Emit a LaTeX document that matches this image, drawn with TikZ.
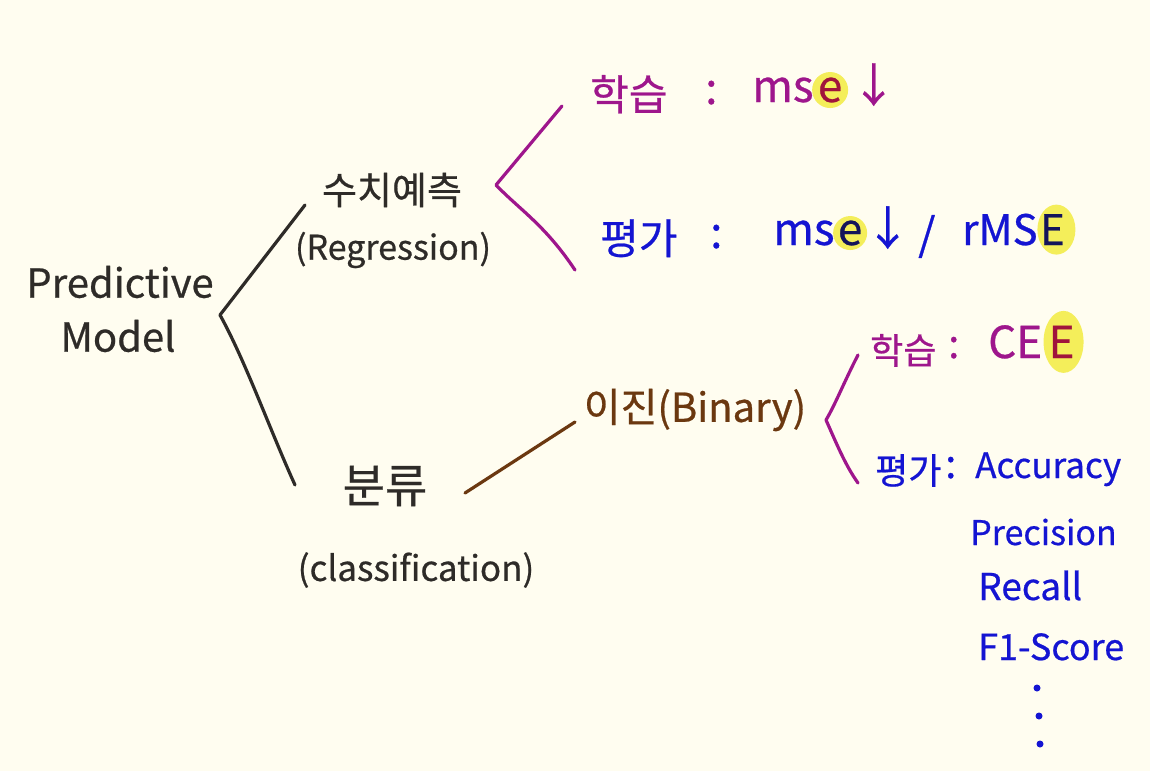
\documentclass[tikz,border=0pt]{standalone}
\usepackage{fontspec}
\setmainfont{Noto Sans CJK KR}[FakeBold=0.6]
\usetikzlibrary{backgrounds}
\definecolor{bg}{HTML}{FFFDF0}
\definecolor{ink}{HTML}{2E2B28}
\definecolor{mag}{HTML}{9E168C}
\definecolor{blu}{HTML}{1414D2}
\definecolor{brn}{HTML}{6B3810}
\definecolor{hly}{HTML}{F4EE5A}
\definecolor{hlmag}{HTML}{A0143C}
\definecolor{hlblu}{HTML}{14145A}
\tikzset{
  txt/.style={inner sep=0pt, font=\fontsize{#1}{#1}\selectfont},
  txt/.default=34,
  lw/.style={line width=3.2pt, line cap=round, line join=round},
}
\begin{document}
\begin{tikzpicture}[x=1pt,y=-1pt]
\useasboundingbox (0,0) rectangle (1150,771);
\begin{scope}[on background layer]
\fill[bg] (0,0) rectangle (1150,771);
\end{scope}

% root
\node[txt=40, text=ink] (pm1) at (120,282) {Predictive};
\node[txt=40, text=ink] (pm2) at (118,336) {Model};
\coordinate (rootpt) at (220,315);

% regression
\node[txt=38, text=ink] (reg1) at (392,190) {수치예측};
\node[txt=34, text=ink] (reg2) at (393,250) {(Regression)};
\coordinate (regin) at (305,205);

% classification
\node[txt=46, text=ink] (cls1) at (385,486) {분류};
\node[txt=35, text=ink] (cls2) at (416,570) {(classification)};
\coordinate (clsin) at (295,485);

\draw[lw, ink] (rootpt) -- (regin);
\draw[lw, ink] (rootpt) .. controls (245,360) and (270,430) .. (clsin);

% regression bracket
\coordinate (rb0) at (496,185);
\coordinate (rb1) at (562,106);
\coordinate (rb2) at (575,270);
\draw[lw, mag] (rb1) -- (rb0) .. controls (520,210) and (545,225) .. (rb2);

% line 1
\node[txt=42, text=mag, anchor=base west] (a1) at (590,110) {학습};
\node[txt=44, text=mag, anchor=base west] (a2) at (705,104) {:};
\node[txt=44, text=mag, anchor=base west] (a3) at (752,102) {ms};
\node[txt=44, text=hlmag, anchor=base west] (a4) at ([xshift=4pt]a3.base east) {e};
\node[txt=46, text=mag, anchor=base west] (a5) at ([xshift=8pt]a4.base east) {↓};

% line 2
\node[txt=42, text=blu, anchor=base west] (b1) at (600,254) {평가};
\node[txt=44, text=blu, anchor=base west] (b2) at (710,248) {:};
\node[txt=44, text=blu, anchor=base west] (b3) at (773,245) {ms};
\node[txt=44, text=hlblu, anchor=base west] (b4) at ([xshift=3pt]b3.base east) {e};
\node[txt=46, text=blu, anchor=base west] (b5) at ([xshift=2pt]b4.base east) {↓};
\node[txt=44, text=blu, anchor=base west] (b6) at (918,250) {/};
\node[txt=42, text=blu, anchor=base west] (b7) at (962,245) {rMS};
\node[txt=42, text=hlblu, anchor=base west] (b8) at ([xshift=2pt]b7.base east) {E};

% binary
\node[txt=40, text=brn] (bin) at (695,410) {이진(Binary)};
\coordinate (binin) at (575,422);
\coordinate (clsout) at (465,493);
\draw[lw, brn] (clsout) -- (binin);

% binary bracket
\coordinate (bb0) at (826,420);
\coordinate (bb1) at (858,355);
\coordinate (bb2) at (858,483);
\draw[lw, mag] (bb1) .. controls (845,380) and (835,405) .. (bb0) .. controls (835,440) and (845,465) .. (bb2);

% line 3
\node[txt=36, text=mag, anchor=base west] (c1) at (870,364) {학습};
\node[txt=40, text=mag, anchor=base west] (c2) at (948,358) {:};
\node[txt=44, text=mag, anchor=base west] (c3) at (988,358) {CE};
\node[txt=44, text=hlmag, anchor=base west] (c4) at ([xshift=6pt]c3.base east) {E};

% line 4
\node[txt=36, text=blu, anchor=base west] (d1) at (875,484) {평가};
\node[txt=40, text=blu, anchor=base west] (d2) at (945,478) {:};
\node[txt=35, text=blu, anchor=base west] (d3) at (975,478) {Accuracy};
\node[txt=34, text=blu, anchor=base west] (d4) at (970,545) {Precision};
\node[txt=37, text=blu, anchor=base west] (d5) at (978,600) {Recall};
\node[txt=36, text=blu, anchor=base west] (d6) at (978,660) {F1-Score};
\node[circle, fill=blu, inner sep=0pt, minimum size=7pt] (dot1) at (1037,688) {};
\node[circle, fill=blu, inner sep=0pt, minimum size=7pt] (dot2) at (1039,716) {};
\node[circle, fill=blu, inner sep=0pt, minimum size=7pt] (dot3) at (1040,744) {};

% highlights
\begin{scope}[on background layer]
\fill[hly] (a4.center) circle[radius=18];
\fill[hly] (b4.center) circle[radius=17];
\fill[hly] ([xshift=4pt]b8.center) circle[x radius=19, y radius=25];
\fill[hly] ([xshift=2pt]c4.center) circle[x radius=20, y radius=31];
\end{scope}
\end{tikzpicture}
\end{document}
